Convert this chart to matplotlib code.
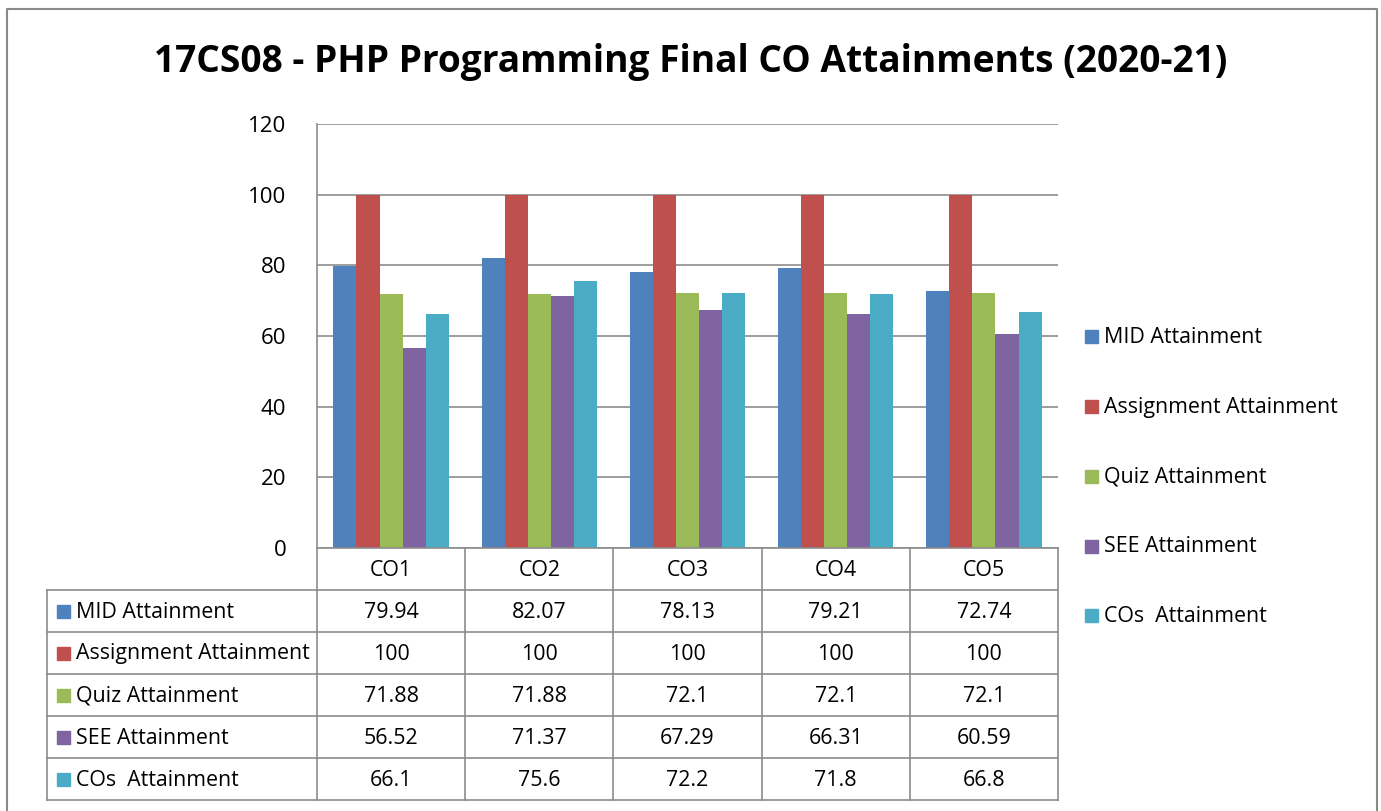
import matplotlib
matplotlib.use("Agg")
import matplotlib.pyplot as plt
from matplotlib.patches import Rectangle
from matplotlib.lines import Line2D
import numpy as np

categories = ["CO1", "CO2", "CO3", "CO4", "CO5"]
series_names = ["MID Attainment", "Assignment Attainment", "Quiz Attainment",
                "SEE Attainment", "COs  Attainment"]
mid = [79.94, 82.07, 78.13, 79.21, 72.74]
assignment = [100, 100, 100, 100, 100]
quiz = [71.88, 71.88, 72.1, 72.1, 72.1]
see = [56.52, 71.37, 67.29, 66.31, 60.59]
cos = [66.1, 75.6, 72.2, 71.8, 66.8]
table_text = [
    ["79.94", "82.07", "78.13", "79.21", "72.74"],
    ["100", "100", "100", "100", "100"],
    ["71.88", "71.88", "72.1", "72.1", "72.1"],
    ["56.52", "71.37", "67.29", "66.31", "60.59"],
    ["66.1", "75.6", "72.2", "71.8", "66.8"],
]
yticks = [0, 20, 40, 60, 80, 100, 120]
colors = ["#4F81BD", "#C0504D", "#9BBB59", "#8064A2", "#4BACC6"]
title = "17CS08 - PHP Programming Final CO Attainments (2020-21)"

plt.rcParams['font.family'] = ['Open Sans', 'DejaVu Sans']

W, H = 1381, 811
fig = plt.figure(figsize=(W / 100, H / 100), dpi=100)
FS = 15.4

def fx(px):
    return px / W

def fy(py):
    return 1 - py / H

# outer frame (left, top, right edges; bottom runs off the image)
fig.add_artist(Line2D([fx(7), fx(7), fx(1377), fx(1377)],
                      [fy(815), fy(9), fy(9), fy(815)], transform=fig.transFigure,
                      color="#8a8a8a", linewidth=1.5))

ax_l, ax_r, ax_t, ax_b = 317, 1058, 124, 548
ax = fig.add_axes([fx(ax_l), fy(ax_b), fx(ax_r) - fx(ax_l), fy(ax_t) - fy(ax_b)])
data = [mid, assignment, quiz, see, cos]
n = len(categories)
x = np.arange(n)
bw = 0.156
for i, (vals, c) in enumerate(zip(data, colors)):
    ax.bar(x + (i - 2) * bw, vals, width=bw, color=c, edgecolor="none", zorder=3)
ax.set_xlim(-0.5, n - 0.5)
ax.set_ylim(0, 120)
ax.set_yticks(yticks)
ax.set_yticklabels([str(v) for v in yticks], fontsize=16, color="black")
ax.tick_params(axis='y', length=0, pad=22)
ax.set_xticks([])
ax.grid(axis='y', color="#8c8c8c", linewidth=1.2, zorder=0)
for s in ["top", "right", "bottom"]:
    ax.spines[s].set_visible(False)
ax.spines["left"].set_color("#8c8c8c")
ax.spines["left"].set_linewidth(1.2)

fig.text(fx(691), fy(62), title, ha="center", va="center", fontsize=26.7,
         fontweight="bold", color="black")

# table
tab_left = 47
col_edges = np.linspace(ax_l, ax_r, n + 1)
row_edges = [548, 590, 632, 674, 716, 758, 800]
lc = "#8c8c8c"
lw = 1.2

def hline(y, x0, x1):
    fig.add_artist(Line2D([fx(x0), fx(x1)], [fy(y), fy(y)], transform=fig.transFigure,
                          color=lc, linewidth=lw))

def vline(xp, y0, y1):
    fig.add_artist(Line2D([fx(xp), fx(xp)], [fy(y0), fy(y1)], transform=fig.transFigure,
                          color=lc, linewidth=lw))

hline(row_edges[0], ax_l, ax_r)
for y in row_edges[1:]:
    hline(y, tab_left, ax_r)
for xp in col_edges:
    vline(xp, row_edges[0], row_edges[-1])
vline(tab_left, row_edges[1], row_edges[-1])

for j, cat in enumerate(categories):
    xc = (col_edges[j] + col_edges[j + 1]) / 2
    fig.text(fx(xc), fy((row_edges[0] + row_edges[1]) / 2 + 1), cat, ha="center",
             va="center", fontsize=FS)
for i, name in enumerate(series_names):
    yc = (row_edges[i + 1] + row_edges[i + 2]) / 2 + 1
    fig.patches.append(Rectangle((fx(57), fy(yc + 6)), fx(13), fy(0) - fy(13),
                                 transform=fig.transFigure, color=colors[i]))
    fig.text(fx(76), fy(yc), name, ha="left", va="center", fontsize=FS)
    for j in range(n):
        xc = (col_edges[j] + col_edges[j + 1]) / 2
        fig.text(fx(xc), fy(yc), table_text[i][j], ha="center", va="center", fontsize=FS)

# legend
leg_y = [337, 407, 477, 547, 616]
for i, name in enumerate(series_names):
    yc = leg_y[i]
    fig.patches.append(Rectangle((fx(1085), fy(yc + 6)), fx(13), fy(0) - fy(13),
                                 transform=fig.transFigure, color=colors[i]))
    fig.text(fx(1104), fy(yc), name, ha="left", va="center", fontsize=FS)

fig.savefig("out.png", dpi=100)
